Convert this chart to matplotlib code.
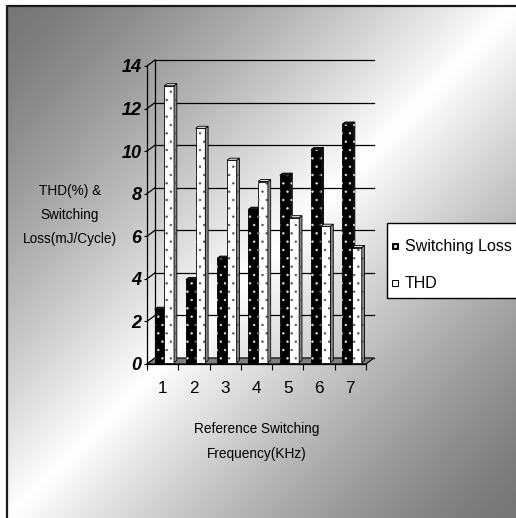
import matplotlib

matplotlib.use("Agg")
import matplotlib.pyplot as plt
import numpy as np
from matplotlib import font_manager
from matplotlib.patches import Polygon, Rectangle

# ------------ data -------------#
categories = ["1", "2", "3", "4", "5", "6", "7"]
switching_loss = [2.5, 3.9, 4.9, 7.2, 8.8, 10.0, 11.2]
thd = [13.0, 11.0, 9.5, 8.5, 6.8, 6.4, 5.4]
y_ticks = [0, 2, 4, 6, 8, 10, 12, 14]
series_names = ["Switching Loss", "THD"]

# face / side / top / dot colours per series
styles = [
    dict(face="#000000", side="#111111", top="#1c1c1c", dots="#e0e0e0"),
    dict(face="#ffffff", side="#8a8a8a", top="#dcdcdc", dots="#555555"),
]

W, H = 516, 518
fig = plt.figure(figsize=(W / 100, H / 100), dpi=100)
fig.patch.set_facecolor("white")

# narrow font if we have it, otherwise shrink the regular one
names = {f.name for f in font_manager.fontManager.ttflist}
if "Liberation Sans Narrow" in names:
    text_font, k = "Liberation Sans Narrow", 1.0
else:
    text_font, k = "Liberation Sans", 0.82

# ------------ background (pixel coords) -------------#
bg = fig.add_axes([0, 0, 1, 1])
yy, xx = np.mgrid[0:H, 0:W]
t = (xx / W + yy / H) / 2
s = 1 - np.abs(2 * t - 1)
shade = 0.46 + 0.54 * s**1.3
bg.imshow(shade, cmap="gray", vmin=0, vmax=1, extent=(7, W, H, 6), aspect="auto", zorder=0)
bg.plot([7, 7, W + 5], [H + 5, 6, 6], color="#1a1a1a", lw=1.6, zorder=1)
bg.set_xlim(0, W)
bg.set_ylim(H, 0)
bg.axis("off")

# ------------ plot (front plane) -------------#
x0px, x1px = 147, 366
y0px, y1px = 364, 66
ax = fig.add_axes([x0px / W, 1 - y0px / H, (x1px - x0px) / W, (y0px - y1px) / H])
n = len(categories)
ax.set_xlim(0, n)
ax.set_ylim(0, 14)
ax.patch.set_visible(False)

# depth offset of the back wall, in data units
dx = 8 / ((x1px - x0px) / n)
dy = 6 / ((y0px - y1px) / 14)

# back wall gridlines + side wall links
for v in y_ticks:
    ax.plot([dx, n + dx], [v + dy, v + dy], color="black", lw=0.9, clip_on=False, zorder=1)
    ax.plot([0, dx], [v, v + dy], color="black", lw=0.9, clip_on=False, zorder=1)
ax.plot([dx, dx], [dy, 14 + dy], color="black", lw=0.9, clip_on=False, zorder=1)

# floor
ax.add_patch(
    Polygon([(0, 0), (n, 0), (n + dx, dy), (dx, dy)], closed=True, facecolor="#808080",
            edgecolor="black", lw=0.8, clip_on=False, zorder=1.5)
)

# bars sit between 25% and 60% of the depth
fx, fy = 0.25 * dx, 0.25 * dy
bx, by = 0.60 * dx, 0.60 * dy
ddx, ddy = bx - fx, by - fy
bar_w = 0.31
plt.rcParams["hatch.linewidth"] = 0.5

z = 3.0
for i in range(n):
    for j, vals in enumerate([switching_loss, thd]):
        st = styles[j]
        v = vals[i]
        x = i + 0.18 + j * bar_w + fx
        ax.bar(x, v, width=bar_w, bottom=fy, align="edge", color=st["face"],
               edgecolor="black", lw=0.6, zorder=z, clip_on=False)
        ax.bar(x, v, width=bar_w, bottom=fy, align="edge", fill=False, hatch="..",
               edgecolor=st["dots"], lw=0, zorder=z + 0.01, clip_on=False)
        side = [(x + bar_w, fy), (x + bar_w, v + fy), (x + bar_w + ddx, v + by), (x + bar_w + ddx, by)]
        ax.add_patch(Polygon(side, closed=True, facecolor=st["side"], edgecolor="black",
                             lw=0.6, zorder=z + 0.02, clip_on=False))
        ax.add_patch(Polygon(side, closed=True, fill=False, hatch="..", edgecolor=st["dots"],
                             lw=0, zorder=z + 0.03, clip_on=False))
        top = [(x, v + fy), (x + bar_w, v + fy), (x + bar_w + ddx, v + by), (x + ddx, v + by)]
        ax.add_patch(Polygon(top, closed=True, facecolor=st["top"], edgecolor="black",
                             lw=0.6, zorder=z + 0.04, clip_on=False))
        z += 0.1

# spines
for side_name in ["top", "right"]:
    ax.spines[side_name].set_visible(False)
for side_name in ["left", "bottom"]:
    ax.spines[side_name].set_linewidth(0.9)
    ax.spines[side_name].set_zorder(2)

# y ticks
ax.set_yticks(y_ticks)
ax.set_yticklabels([str(v) for v in y_ticks], fontweight="bold", fontstyle="italic",
                   family="Liberation Sans", fontsize=13)
ax.tick_params(axis="y", length=2.5, width=0.8, pad=1.5)

# x ticks: boundaries as major ticks, labels on minor ticks
ax.set_xticks(range(n + 1))
ax.set_xticklabels([])
ax.tick_params(axis="x", which="major", length=4, width=0.8)
ax.set_xticks([i + 0.5 for i in range(n)], minor=True)
ax.set_xticklabels(categories, minor=True, family=text_font, fontsize=15 * k)
ax.tick_params(axis="x", which="minor", length=0, pad=12)

# axis titles
ax.set_ylabel("THD(%) &\nSwitching\nLoss(mJ/Cycle)", rotation=0, ha="center", va="center",
              family=text_font, fontsize=12 * k, linespacing=1.9)
ax.yaxis.set_label_coords((70 - x0px) / (x1px - x0px), (y0px - 215) / (y0px - y1px))
ax.set_xlabel("Reference Switching\nFrequency(KHz)", ha="center", va="center",
              family=text_font, fontsize=12 * k, linespacing=2.0)
ax.xaxis.set_label_coords((257 - x0px) / (x1px - x0px), (y0px - 441.5) / (y0px - y1px))

# ------------ legend (pixel coords) -------------#
bg.add_patch(Rectangle((387, 223), 140, 75, facecolor="white", edgecolor="black", lw=1.0, zorder=5))
for j, (name, y_c) in enumerate(zip(series_names, [246, 283])):
    st = styles[j]
    bg.add_patch(Rectangle((392, y_c - 3), 6, 6, facecolor=st["face"], edgecolor="black",
                           lw=0.7, zorder=6))
    if j == 0:
        bg.plot([395], [y_c], marker="s", ms=1.2, color=st["dots"], zorder=7)
    bg.text(405, y_c, name, ha="left", va="center", family=text_font, fontsize=14.1 * k, zorder=7)

fig.savefig("out.png", dpi=100)
